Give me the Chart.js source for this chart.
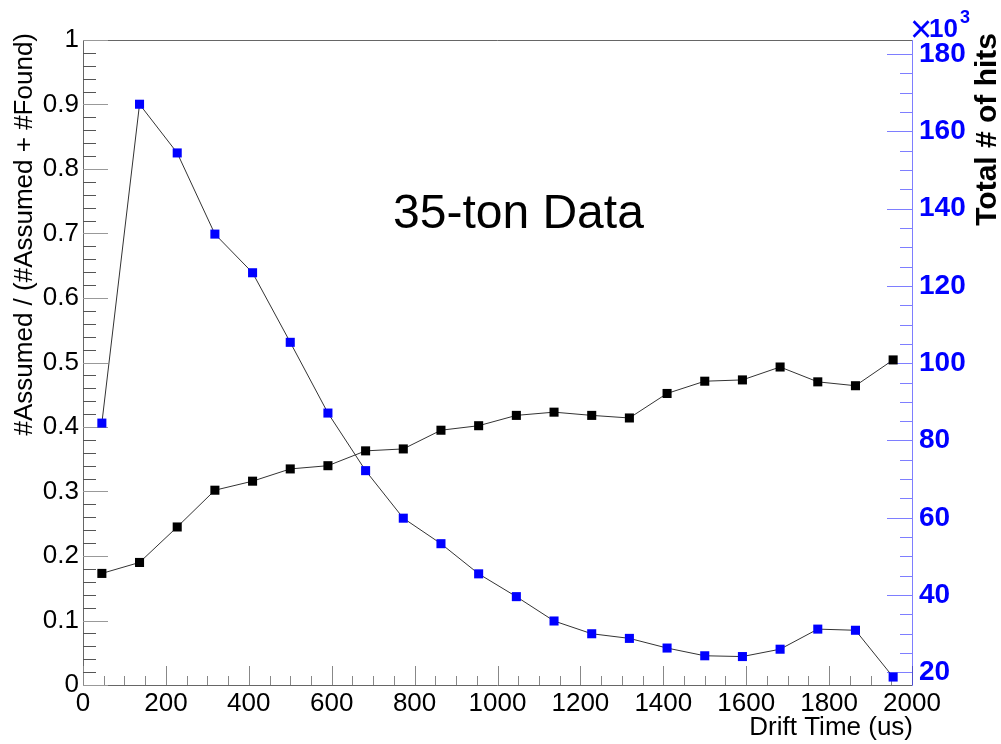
<!DOCTYPE html>
<html><head><meta charset="utf-8">
<script src="https://cdn.jsdelivr.net/npm/chart.js@4.4.1/dist/chart.umd.min.js"></script>
<style>html,body{margin:0;padding:0;background:#fff;overflow:hidden}canvas{display:block}</style>
</head><body>
<canvas id="c" width="1001" height="744"></canvas>
<script>
// ---- data ----
const driftTimes = [45.5, 136.4, 227.3, 318.2, 409.1, 500.0, 590.9, 681.8, 772.7, 863.6, 954.5,
                    1045.5, 1136.4, 1227.3, 1318.2, 1409.1, 1500.0, 1590.9, 1681.8, 1772.7, 1863.6, 1954.5];
const assumedFraction = [0.173, 0.190, 0.245, 0.302, 0.316, 0.335, 0.340, 0.363, 0.366, 0.395, 0.402,
                         0.418, 0.423, 0.418, 0.414, 0.452, 0.471, 0.473, 0.493, 0.470, 0.464, 0.504];
const totalHitsK = [84.5, 167.0, 154.4, 133.4, 123.4, 105.4, 87.1, 72.2, 59.9, 53.3, 45.5,
                    39.6, 33.3, 30.0, 28.8, 26.3, 24.3, 24.1, 26.0, 31.2, 30.9, 18.8];
const xTickValues = [0, 200, 400, 600, 800, 1000, 1200, 1400, 1600, 1800, 2000];
const leftTickValues = [0, 0.1, 0.2, 0.3, 0.4, 0.5, 0.6, 0.7, 0.8, 0.9, 1];
const rightTickValues = [20, 40, 60, 80, 100, 120, 140, 160, 180];
const xTitle = 'Drift Time (us)';
const leftTitle = '#Assumed / (#Assumed + #Found)';
const rightTitle = 'Total # of hits';
const annotation = '35-ton Data';

const FONT = "'Liberation Sans', Arial, Helvetica, sans-serif";
const BLUE = '#0000ff';
const AXBLUE = 'rgba(40,40,255,0.6)';

const rootFrame = {
  id: 'rootFrame',
  beforeDatasetsDraw(chart) {
    const {ctx, chartArea: a, scales} = chart;
    const x = scales.x, y = scales.y, y2 = scales.y2;
    ctx.save();
    ctx.lineWidth = 1;
    // frame
    ctx.strokeStyle = '#666';
    ctx.beginPath();
    ctx.moveTo(a.left + 0.5, a.bottom + 0.5); ctx.lineTo(a.left + 0.5, a.top + 0.5); ctx.lineTo(a.right, a.top + 0.5);
    ctx.moveTo(a.left, a.bottom + 0.5); ctx.lineTo(a.right, a.bottom + 0.5);
    ctx.stroke();
    // x ticks
    ctx.strokeStyle = '#888';
    ctx.beginPath();
    for (let v = x.min; v <= x.max + 1e-9; v += 50) {
      const px = Math.round(x.getPixelForValue(v)) + 0.5;
      const major = Math.abs(v % 200) < 1e-6;
      ctx.moveTo(px, a.bottom); ctx.lineTo(px, a.bottom - (major ? 19 : 9));
    }
    ctx.stroke();
    // left ticks
    ctx.strokeStyle = '#555';
    ctx.beginPath();
    for (let i = 0; i <= 50; i++) {
      const v = i * 0.02;
      const py = Math.round(y.getPixelForValue(v)) + 0.5;
      const major = i % 5 === 0;
      if (major) continue;
      ctx.moveTo(a.left, py); ctx.lineTo(a.left + 13, py);
    }
    ctx.stroke();
    ctx.strokeStyle = '#999';
    ctx.beginPath();
    for (let i = 0; i <= 10; i++) {
      const py = Math.round(y.getPixelForValue(i * 0.1)) + 0.5;
      ctx.moveTo(a.left, py); ctx.lineTo(a.left + 25, py);
    }
    ctx.stroke();
    // right axis
    ctx.strokeStyle = AXBLUE;
    ctx.beginPath();
    ctx.moveTo(a.right + 0.5, a.top); ctx.lineTo(a.right + 0.5, a.bottom + 1);
    for (let v = 20; v <= y2.max; v += 5) {
      const py = Math.round(y2.getPixelForValue(v)) + 0.5;
      const major = v % 20 === 0;
      ctx.moveTo(a.right, py); ctx.lineTo(a.right - (major ? 25 : 12), py);
    }
    ctx.stroke();
    ctx.restore();
  },
  afterDraw(chart) {
    const {ctx, chartArea: a} = chart;
    ctx.save();
    ctx.textBaseline = 'alphabetic';
    // annotation
    ctx.fillStyle = '#000';
    ctx.font = '48px ' + FONT;
    ctx.textAlign = 'left';
    ctx.fillText(annotation, 393, 228);
    // x title
    ctx.font = '26px ' + FONT;
    ctx.textAlign = 'right';
    ctx.fillText(xTitle, a.right + 1, 735);
    // left title
    ctx.save();
    ctx.translate(32, 33);
    ctx.rotate(-Math.PI / 2);
    ctx.textAlign = 'right';
    ctx.fillText(leftTitle, 0, 0);
    ctx.restore();
    // right title
    ctx.save();
    ctx.translate(996, 33);
    ctx.rotate(-Math.PI / 2);
    ctx.textAlign = 'right';
    ctx.font = 'bold 30px ' + FONT;
    ctx.fillText(rightTitle, 0, 0);
    ctx.restore();
    // x10^3
    ctx.fillStyle = BLUE;
    ctx.textAlign = 'left';
    ctx.font = '38px ' + FONT;
    ctx.fillText('\u00d7', 910, 42);
    ctx.font = 'bold 26px ' + FONT;
    ctx.fillText('10', 929, 37);
    ctx.font = 'bold 18px ' + FONT;
    ctx.fillText('3', 960, 23);
    ctx.restore();
  }
};

new Chart(document.getElementById('c'), {
  type: 'line',
  data: {
    datasets: [
      {
        label: 'fraction',
        data: driftTimes.map((t, i) => ({x: t, y: assumedFraction[i]})),
        yAxisID: 'y',
        borderColor: '#333',
        borderWidth: 1,
        backgroundColor: '#000',
        pointBackgroundColor: '#000',
        pointBorderWidth: 0,
        pointStyle: 'rect',
        pointRadius: 6.4,
        tension: 0
      },
      {
        label: 'hits',
        data: driftTimes.map((t, i) => ({x: t, y: totalHitsK[i]})),
        yAxisID: 'y2',
        borderColor: '#333',
        borderWidth: 1,
        backgroundColor: BLUE,
        pointBackgroundColor: BLUE,
        pointBorderWidth: 0,
        pointStyle: 'rect',
        pointRadius: 6.4,
        tension: 0
      }
    ]
  },
  options: {
    responsive: false,
    animation: false,
    events: [],
    layout: {padding: {top: 40, left: 0, right: 0, bottom: 0}},
    plugins: {legend: {display: false}, tooltip: {enabled: false}, title: {display: false}},
    scales: {
      x: {
        type: 'linear', position: 'bottom', min: 0, max: 2000,
        afterFit(s) { s.height = 59; },
        afterBuildTicks(s) { s.ticks = xTickValues.map(v => ({value: v})); },
        grid: {display: false, drawTicks: false},
        border: {display: false},
        ticks: {color: '#000', font: {family: FONT, size: 26}, padding: 3, maxRotation: 0, autoSkip: false,
                callback: v => String(v)}
      },
      y: {
        type: 'linear', position: 'left', min: 0, max: 1,
        afterFit(s) { s.width = 83; },
        afterBuildTicks(s) { s.ticks = leftTickValues.map(v => ({value: v})); },
        grid: {display: false, drawTicks: false},
        border: {display: false},
        ticks: {color: '#000', font: {family: FONT, size: 26}, padding: 4, autoSkip: false,
                callback: v => String(Math.round(v * 10) / 10)}
      },
      y2: {
        type: 'linear', position: 'right', min: 16.74, max: 183.62,
        afterFit(s) { s.width = 89; },
        afterBuildTicks(s) { s.ticks = rightTickValues.map(v => ({value: v})); },
        grid: {display: false, drawTicks: false},
        border: {display: false},
        ticks: {color: BLUE, font: {family: FONT, size: 28, weight: 'bold'}, padding: 7, autoSkip: false,
                callback: v => String(v)}
      }
    }
  },
  plugins: [rootFrame]
});
</script>
</body></html>
